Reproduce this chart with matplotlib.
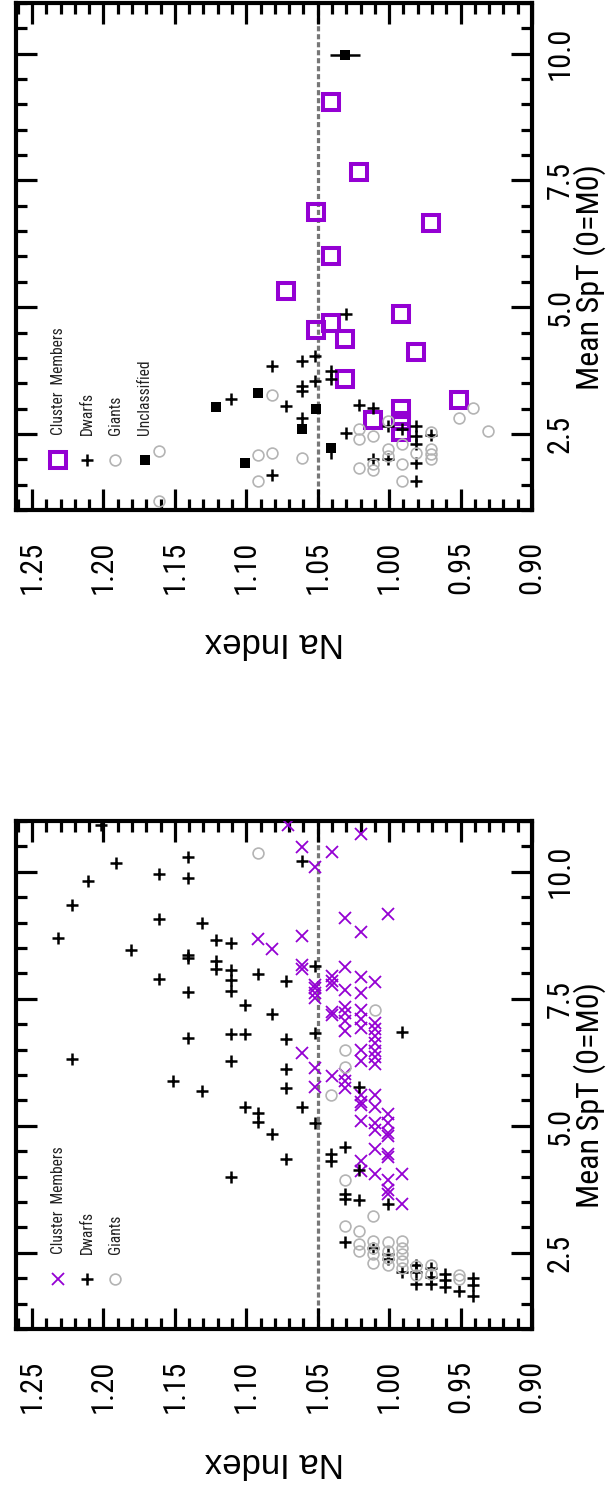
import matplotlib.pyplot as plt
import numpy as np
from matplotlib import font_manager
from matplotlib.ticker import FixedLocator, FormatStrFormatter, MultipleLocator

# narrow sans for the rotated labels, falling back to a plain sans
_faces = font_manager.fontManager.ttflist
_names = {f.name for f in _faces}
NARROW, STRETCH, SCALE = 'Liberation Sans', 'normal', 0.86
for cand in ['Liberation Sans Narrow', 'DejaVu Sans Condensed', 'Roboto Condensed',
             'Open Sans Condensed', 'Noto Sans Condensed']:
    if cand in _names:
        NARROW, STRETCH, SCALE = cand, 'normal', 1.0
        break
else:
    for f in _faces:
        if f.name in ('Liberation Sans', 'DejaVu Sans', 'Noto Sans', 'Open Sans', 'Roboto') \
                and str(f.stretch) in ('condensed', 'semi-condensed') \
                and f.style == 'normal':
            NARROW, STRETCH, SCALE = f.name, str(f.stretch), 0.95
            break

plt.rcParams['font.family'] = [NARROW, 'Liberation Sans', 'DejaVu Sans']
plt.rcParams['font.stretch'] = STRETCH

PURPLE = '#9400d3'
GREY = '#b4b4b4'

na_ticks = [0.90, 0.95, 1.00, 1.05, 1.10, 1.15, 1.20, 1.25]
spt_ticks = [2.5, 5.0, 7.5, 10.0]
na_ref = 1.05

# ---- upper panel: Na index vs mean spectral type ----
top_clus_na = [1.041, 1.021, 1.051, 0.971, 1.041, 0.992, 1.041, 1.051, 1.031,
               0.981, 1.031, 0.951, 1.011, 0.992, 0.992, 0.992, 1.072]
top_clus_spt = [9.04, 7.67, 6.88, 6.66, 6.01, 4.87, 4.68, 4.54, 4.37,
                4.12, 3.59, 3.17, 2.77, 2.99, 2.76, 2.53, 5.32]

top_dwarf_na = [1.082, 1.111, 1.072, 1.061, 1.061, 1.061, 1.061, 1.082, 1.052,
                1.052, 1.030, 1.041, 1.041, 1.021, 1.011, 1.001, 0.991, 0.981,
                0.981, 0.981, 0.971, 1.030, 1.011, 1.001, 0.981, 0.981]
top_dwarf_spt = [3.83, 3.19, 3.05, 3.94, 3.45, 3.35, 2.82, 1.69, 4.04,
                 3.55, 4.87, 3.75, 3.59, 3.07, 3.01, 2.66, 2.59, 2.66,
                 2.46, 2.30, 2.47, 2.51, 2.00, 2.00, 1.93, 1.57]

top_giant_na = [1.161, 1.161, 1.092, 1.082, 1.092, 1.061, 1.082, 1.021, 1.021,
                1.021, 1.011, 1.011, 1.011, 1.001, 1.001, 0.991, 0.991, 0.991,
                0.981, 0.971, 0.971, 0.971, 0.971, 0.951, 0.941, 0.931, 1.001]
top_giant_spt = [2.16, 1.17, 2.08, 2.13, 1.57, 2.03, 3.27, 2.59, 2.39,
                 1.83, 2.46, 1.90, 1.78, 2.20, 2.07, 2.30, 1.90, 1.58,
                 2.13, 2.53, 2.20, 2.10, 2.00, 2.82, 3.01, 2.56, 2.75]

top_uncl_na = [1.031, 1.051, 1.041, 1.121, 1.092, 1.061, 1.101]
top_uncl_spt = [9.98, 2.99, 2.23, 3.03, 3.30, 2.60, 1.93]
top_uncl_na_err = [0.0103, 0, 0, 0, 0, 0, 0]
top_uncl_spt_lo = [0, 0, 0.22, 0, 0, 0, 0]
top_uncl_spt_hi = [0, 0, 0, 0, 0, 0, 0]

# ---- lower panel ----
bot_clus_na = [1.071, 1.061, 1.052, 1.092, 1.082, 1.061, 1.061, 1.061, 1.052,
               1.052, 1.052, 1.052, 1.061, 1.052, 1.052,
               1.020, 1.040, 1.031, 1.020, 1.001, 1.031, 1.040, 1.040, 1.040,
               1.020, 1.020, 1.010, 1.031, 1.040, 1.040,
               1.031, 1.031, 1.031, 1.031, 1.020, 1.020, 1.020,
               1.010, 1.010, 1.010, 1.010, 1.010, 1.010, 1.010,
               1.020, 1.020, 1.031, 1.031, 1.031, 1.040,
               1.020, 1.020, 1.020, 1.020, 1.010, 1.010, 1.010, 1.010,
               1.001, 1.001, 1.001, 1.001, 1.010, 1.001, 1.001,
               1.020, 1.020, 1.010, 1.001, 1.001, 1.001, 0.991, 0.991]
bot_clus_spt = [10.92, 10.48, 10.10, 8.68, 8.48, 8.74, 8.16, 8.09, 7.78,
                7.72, 7.61, 7.51, 6.44, 6.13, 5.77,
                10.75, 10.39, 9.08, 8.82, 9.16, 8.13, 7.95, 7.85, 7.78,
                7.92, 7.61, 7.82, 7.68, 7.24, 7.17,
                7.34, 7.21, 7.07, 6.86, 7.27, 7.10, 6.93,
                7.03, 6.90, 6.76, 6.62, 6.48, 6.35, 6.22,
                6.49, 6.28, 6.01, 5.88, 5.74, 5.98,
                5.60, 5.47, 5.40, 5.09, 5.60, 5.36, 5.06, 4.92,
                5.23, 5.06, 4.85, 4.79, 4.55, 4.44, 4.38,
                4.31, 4.10, 4.04, 3.93, 3.73, 3.66, 4.04, 3.46]

bot_dwarf_na = [1.191, 1.211, 1.222, 1.232, 1.181, 1.161, 1.161, 1.161, 1.141,
                1.141, 1.141, 1.141, 1.141, 1.141, 1.131, 1.121, 1.121, 1.121,
                1.111, 1.111, 1.111, 1.111, 1.111, 1.111, 1.111, 1.101, 1.101,
                1.101, 1.092, 1.092, 1.092, 1.082, 1.082, 1.072, 1.072, 1.072,
                1.072, 1.072, 1.061, 1.061, 1.052, 1.052, 1.052, 1.222, 1.151,
                1.131, 1.202,
                0.991, 1.021, 1.031, 1.041, 1.041, 1.021, 1.031, 1.031, 1.021,
                1.001, 1.031, 1.011, 1.001, 1.001, 0.991, 0.981, 0.981, 0.981,
                0.971, 0.971, 0.971, 0.961, 0.961, 0.961, 0.951, 0.941, 0.941,
                0.941]
bot_dwarf_spt = [10.17, 9.82, 9.34, 8.70, 8.45, 9.95, 9.07, 7.89, 10.29,
                 9.88, 8.36, 8.30, 7.63, 6.73, 8.99, 8.65, 8.24, 8.09,
                 8.59, 8.06, 7.87, 7.65, 6.81, 6.27, 3.99, 7.38, 6.81,
                 5.36, 7.99, 5.26, 5.07, 7.19, 4.84, 7.84, 6.71, 6.11,
                 5.74, 4.34, 10.22, 5.36, 8.14, 6.82, 5.06, 6.31, 5.89,
                 5.69, 10.92,
                 6.84, 5.77, 4.58, 4.44, 4.31, 4.12, 3.66, 3.56, 3.54,
                 3.46, 2.71, 2.60, 2.47, 2.37, 2.13, 2.26, 2.13, 1.89,
                 2.19, 2.02, 1.89, 2.09, 1.96, 1.82, 1.75, 2.00, 1.87,
                 1.64]

bot_giant_na = [1.092, 1.041, 1.031, 1.031, 1.010, 1.031, 1.011, 1.031, 1.021,
                1.021, 1.021, 1.011, 1.011, 1.011, 1.011, 1.001, 1.001, 1.001,
                1.001, 0.991, 0.991, 0.991, 0.991, 0.991, 0.981, 0.981, 0.971,
                0.971, 0.951, 0.951]
bot_giant_spt = [10.37, 5.60, 6.49, 6.16, 7.27, 3.93, 3.23, 3.03, 2.92,
                 2.67, 2.54, 2.74, 2.60, 2.47, 2.30, 2.71, 2.54, 2.40,
                 2.26, 2.74, 2.60, 2.47, 2.33, 2.19, 2.23, 2.06, 2.26,
                 2.09, 2.06, 1.99]


def style_axes(ax):
    ax.set_xlim(1.2612, 0.90)
    ax.set_ylim(1.0, 11.0)
    ax.xaxis.set_major_locator(FixedLocator(na_ticks))
    ax.xaxis.set_minor_locator(FixedLocator(np.arange(0.90, 1.2605, 0.01)))
    ax.xaxis.set_major_formatter(FormatStrFormatter('%.2f'))
    ax.yaxis.set_major_locator(FixedLocator(spt_ticks))
    ax.yaxis.set_minor_locator(MultipleLocator(0.5))
    ax.yaxis.set_major_formatter(FormatStrFormatter('%.1f'))
    ax.tick_params(which='both', direction='in', top=True, bottom=True,
                   left=True, right=True, labelleft=False, labelright=True,
                   labelbottom=True, labeltop=False, width=2.3, color='black')
    ax.tick_params(which='major', length=15)
    ax.tick_params(which='minor', length=8)
    ax.tick_params(axis='x', which='major', labelrotation=90,
                   labelsize=22 * SCALE, pad=22)
    ax.tick_params(axis='y', which='major', labelrotation=90,
                   labelsize=22 * SCALE, pad=10)
    for lab in ax.get_yticklabels():
        lab.set_verticalalignment('center')
    for sp in ax.spines.values():
        sp.set_linewidth(3)
    ax.axvline(na_ref, color='#777777', lw=2.3, ls=(0, (1.6, 0.9)), zorder=1)
    ax.text(0.5, -0.262, 'Na Index', rotation=180, ha='center', va='center',
            fontsize=25, family=['Liberation Sans', 'DejaVu Sans'],
            fontstretch='normal', transform=ax.transAxes)
    ax.text(1.112, 0.46, 'Mean SpT (0=M0)', rotation=90, ha='center',
            va='center', fontsize=23 * SCALE, transform=ax.transAxes)


def legend_entry(ax, xpos, label, **marker_kw):
    ax.plot([xpos], [0.0986], transform=ax.transAxes, ls='none',
            clip_on=False, **marker_kw)
    ax.text(xpos, 0.148, label, rotation=90, ha='center', va='bottom',
            fontsize=11.2 * SCALE, color='#222222', transform=ax.transAxes)


clus_sq = dict(marker='s', ms=11.5, mew=2.9, mfc='none', mec=PURPLE)
clus_x = dict(marker='x', ms=8.5, mew=1.3, color=PURPLE)
dwarf_kw = dict(marker='+', ms=8.5, mew=1.8, color='black')
giant_kw = dict(marker='o', ms=7.8, mew=1.2, mfc='none', mec=GREY)
uncl_kw = dict(marker='s', ms=7.5, mew=0, color='black')

fig = plt.figure(figsize=(6.16, 14.88), dpi=100)
ax_top = fig.add_axes([16 / 616, 0.6573, 516 / 616, 0.3407])
ax_bot = fig.add_axes([16 / 616, 0.1069, 516 / 616, 0.3414])

# upper panel
style_axes(ax_top)
ax_top.plot(top_clus_na, top_clus_spt, ls='none', zorder=3, **clus_sq)
ax_top.plot(top_dwarf_na, top_dwarf_spt, ls='none', zorder=4, **dwarf_kw)
ax_top.plot(top_giant_na, top_giant_spt, ls='none', zorder=5, **giant_kw)
ax_top.errorbar(top_uncl_na, top_uncl_spt, xerr=top_uncl_na_err,
                yerr=[top_uncl_spt_lo, top_uncl_spt_hi], fmt='none',
                ecolor='black', elinewidth=1.8, capsize=0, zorder=6)
ax_top.plot(top_uncl_na, top_uncl_spt, ls='none', zorder=6, **uncl_kw)

legend_entry(ax_top, 0.0814, 'Cluster  Members', **clus_sq)
legend_entry(ax_top, 0.1376, 'Dwarfs', **dwarf_kw)
legend_entry(ax_top, 0.1919, 'Giants', **giant_kw)
legend_entry(ax_top, 0.2500, 'Unclassified', **uncl_kw)

# lower panel
style_axes(ax_bot)
ax_bot.plot(bot_clus_na, bot_clus_spt, ls='none', zorder=3, **clus_x)
ax_bot.plot(bot_dwarf_na, bot_dwarf_spt, ls='none', zorder=4, **dwarf_kw)
ax_bot.plot(bot_giant_na, bot_giant_spt, ls='none', zorder=5, **giant_kw)

legend_entry(ax_bot, 0.0814, 'Cluster  Members', **clus_x)
legend_entry(ax_bot, 0.1376, 'Dwarfs', **dwarf_kw)
legend_entry(ax_bot, 0.1919, 'Giants', **giant_kw)

fig.savefig('out.png', dpi=100)
